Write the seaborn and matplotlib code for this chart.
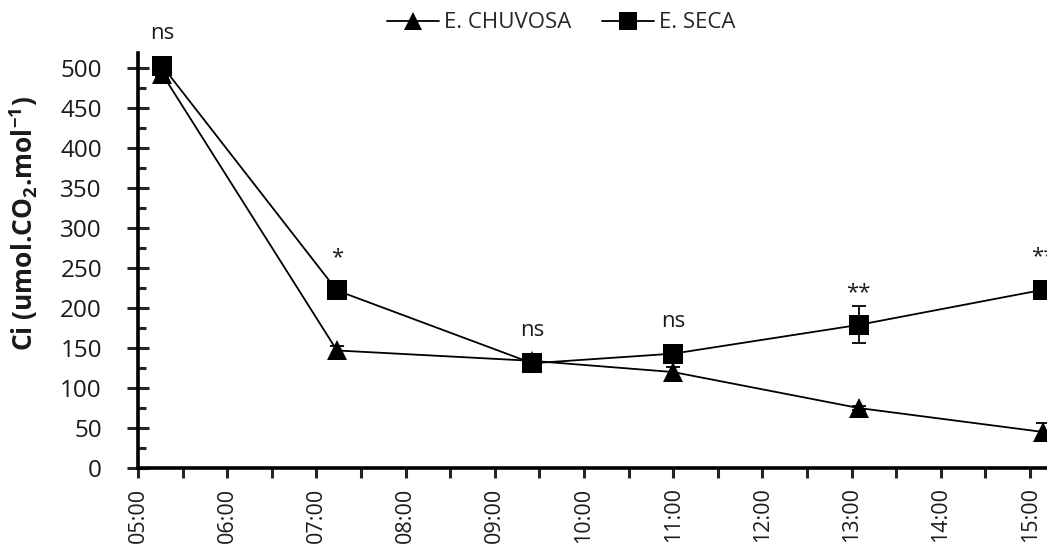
import matplotlib
matplotlib.use("Agg")
import matplotlib.pyplot as plt
import seaborn as sns
import pandas as pd
import numpy as np
from matplotlib.ticker import MultipleLocator, FixedLocator

# ---- data (hours as decimal) ----
times = [5.27, 7.23, 9.42, 11.0, 13.08, 15.15]
chuvosa = [493, 147, 134, 120, 75, 45]
chuvosa_err = [4, 6, 5, 6, 3, 11]
seca = [503, 222, 131, 143, 179, 223]
seca_err = [5, 8, 5, 6, 23, 8]
sig_labels = ["ns", "*", "ns", "ns", "**", "**"]
tick_hours = [5, 6, 7, 8, 9, 10, 11, 12, 13, 14, 15]
tick_labels = ["05:00", "06:00", "07:00", "08:00", "09:00", "10:00",
               "11:00", "12:00", "13:00", "14:00", "15:00"]
series_names = ["E. CHUVOSA", "E. SECA"]

df = pd.DataFrame({
    "time": times * 2,
    "Ci": chuvosa + seca,
    "err": chuvosa_err + seca_err,
    "serie": [series_names[0]] * len(times) + [series_names[1]] * len(times),
})

sns.set_style("ticks")
plt.rcParams["font.family"] = ["Open Sans", "DejaVu Sans"]
plt.rcParams["mathtext.fontset"] = "custom"
plt.rcParams["mathtext.rm"] = "Open Sans"
plt.rcParams["mathtext.bf"] = "Open Sans:bold"

TXT = "#1a1a1a"

fig = plt.figure(figsize=(10.47, 5.44), dpi=100)
ax = fig.add_axes([138 / 1047, 1 - 468 / 544, 1 - 138 / 1047, (468 - 53) / 544])

# error bars
for name in series_names:
    sub = df[df["serie"] == name]
    ax.errorbar(sub["time"], sub["Ci"], yerr=sub["err"], fmt="none",
                ecolor="black", elinewidth=1.3, capsize=5, capthick=1.3, zorder=2)

sns.lineplot(data=df, x="time", y="Ci", hue="serie", style="serie",
             hue_order=series_names, style_order=series_names,
             palette=["black", "black"], markers={series_names[0]: "^", series_names[1]: "s"},
             dashes=False, markersize=14, linewidth=1.3, markeredgecolor="black",
             markeredgewidth=0, ax=ax, legend=True, zorder=3)

# significance labels
for t, v, lab in zip(times, seca, sig_labels):
    ax.annotate(lab, xy=(t, v), xytext=(0, 27), textcoords="offset pixels",
                ha="center", va="baseline", fontsize=16, color=TXT,
                annotation_clip=False)

ax.set_xlim(5, 15.19)
ax.set_ylim(0, 519)
ax.xaxis.set_major_locator(FixedLocator(tick_hours))
ax.set_xticklabels(tick_labels, rotation=90, fontsize=15.5, color=TXT)
ax.xaxis.set_minor_locator(MultipleLocator(0.5))
ax.yaxis.set_major_locator(MultipleLocator(50))
ax.yaxis.set_minor_locator(MultipleLocator(25))
ax.tick_params(axis="y", which="major", direction="inout", length=16, width=2.2,
               labelsize=17.5, pad=18, labelcolor=TXT)
ax.tick_params(axis="y", which="minor", direction="in", length=6, width=2.2)
ax.tick_params(axis="x", which="both", direction="out", length=7, width=2.2, pad=7)

for s in ["top", "right"]:
    ax.spines[s].set_visible(False)
for s in ["left", "bottom"]:
    ax.spines[s].set_linewidth(2.6)
    ax.spines[s].set_color("black")

ax.set_xlabel("")
ax.set_ylabel(r"Ci (umol.CO$_\mathbf{2}$.mol$^\mathbf{-1}$)", fontsize=19,
              fontweight="bold", color=TXT)
ax.yaxis.set_label_coords(-0.108, 0.588)

handles, labels = ax.get_legend_handles_labels()
ax.legend_.remove()
fig.legend(handles, labels, loc="center", bbox_to_anchor=(0.536, 0.958), ncol=2,
           frameon=False, fontsize=16, handlelength=2.34, columnspacing=1.4,
           handletextpad=0.22, markerscale=0.9)

fig.savefig("out.png", dpi=100)
